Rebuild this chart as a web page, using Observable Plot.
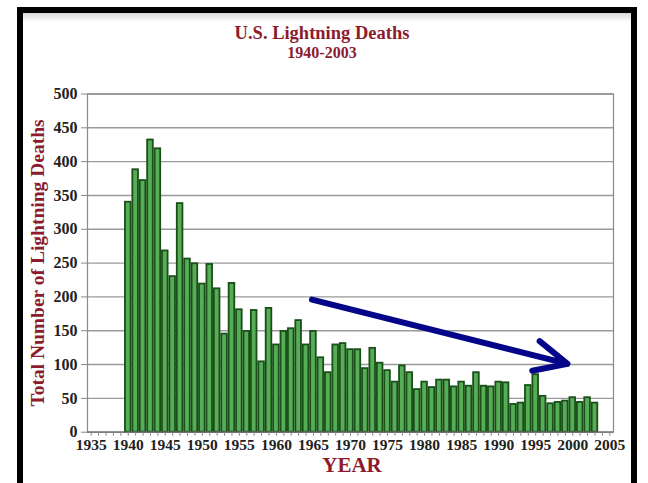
<!DOCTYPE html>
<html><head><meta charset="utf-8">
<script src="https://cdn.jsdelivr.net/npm/d3@7"></script>
<script src="https://cdn.jsdelivr.net/npm/@observablehq/plot@0.6"></script>
<style>
html,body{margin:0;padding:0;background:#fff;}
#wrap{position:relative;width:648px;height:483px;overflow:hidden;font-family:"Liberation Serif","Times New Roman",serif;background:#fff;}
#chart{position:absolute;left:0;top:0;}
#frame{position:absolute;left:17px;top:7px;width:608px;height:500px;border:6px solid #000;border-bottom:none;pointer-events:none;}
#shade{position:absolute;left:23px;top:13px;width:608px;height:9px;background:linear-gradient(#d8d8d8,#fff);}
.t{position:absolute;color:#8c1c2c;font-weight:bold;white-space:nowrap;line-height:1;}
#title{left:0;width:644px;text-align:center;top:24px;font-size:18.5px;}
#sub{left:0;width:644px;text-align:center;top:45px;font-size:16px;}
#ylab{left:38px;top:263px;font-size:19.5px;transform:translate(-50%,-50%) rotate(-90deg);}
#xlab{left:352px;top:465px;font-size:21px;transform:translate(-50%,-50%);}
</style></head>
<body>
<div id="wrap">
  <div id="shade"></div>
  <div id="chart"></div>
  <div id="frame"></div>
  <div class="t" id="title">U.S. Lightning Deaths</div>
  <div class="t" id="sub">1940-2003</div>
  <div class="t" id="ylab">Total Number of Lightning Deaths</div>
  <div class="t" id="xlab">YEAR</div>
</div>
<script>
const years = [1940,1941,1942,1943,1944,1945,1946,1947,1948,1949,
  1950,1951,1952,1953,1954,1955,1956,1957,1958,1959,
  1960,1961,1962,1963,1964,1965,1966,1967,1968,1969,
  1970,1971,1972,1973,1974,1975,1976,1977,1978,1979,
  1980,1981,1982,1983,1984,1985,1986,1987,1988,1989,
  1990,1991,1992,1993,1994,1995,1996,1997,1998,1999,
  2000,2001,2002,2003];
const deaths = [340,388,372,432,419,268,230,338,256,249,
  219,248,212,145,220,181,149,180,104,183,
  129,149,153,165,129,149,110,88,129,131,
  122,122,94,124,102,91,74,98,88,63,
  74,66,77,77,67,74,68,88,68,67,
  74,73,41,43,69,85,53,42,44,46,
  51,44,51,43];
const yTicks = [0,50,100,150,200,250,300,350,400,450,500];
const xTicks = [1935,1940,1945,1950,1955,1960,1965,1970,1975,1980,1985,1990,1995,2000,2005];
const minorYears = [1935,1936,1937,1938,1939,1940,1941,1942,1943,1944,1945,1946,1947,1948,1949,1950,1951,1952,1953,1954,1955,1956,1957,1958,1959,1960,1961,1962,1963,1964,1965,1966,1967,1968,1969,1970,1971,1972,1973,1974,1975,1976,1977,1978,1979,1980,1981,1982,1983,1984,1985,1986,1987,1988,1989,1990,1991,1992,1993,1994,1995,1996,1997,1998,1999,2000,2001,2002,2003,2004,2005];
const trendArrow = [{x1: 1964.8, y1: 196, x2: 1999.3, y2: 101}];

const data = years.map((y, i) => ({year: y, deaths: deaths[i]}));

const chart = Plot.plot({
  width: 648,
  height: 483,
  marginLeft: 87,
  marginRight: 35,
  marginTop: 93.5,
  marginBottom: 51.3,
  style: {fontFamily: "'Liberation Serif', 'Times New Roman', serif", fontSize: "15px", fontWeight: "bold", color: "#222", background: "transparent"},
  x: {domain: [1934.5, 2005.5]},
  y: {domain: [0, 500]},
  marks: [
    Plot.ruleY(yTicks, {stroke: "#9a9a9a", strokeWidth: 1.4}),
    Plot.frame({stroke: "#8a8a8a", strokeWidth: 1.2}),
    Plot.rectY(data, {x1: d => d.year - 0.38, x2: d => d.year + 0.38, y: "deaths", fill: "#55ad55", stroke: "#1a4f1a", strokeWidth: 1.8}),
    Plot.ruleY([0], {stroke: "#777", strokeWidth: 1.2}),
    Plot.axisY(yTicks, {tickSize: 6, tickPadding: 4, label: null, stroke: "#888", fontSize: 16}),
    Plot.axisX(minorYears, {tickSize: 4, tickFormat: () => "", label: null, stroke: "#888"}),
    Plot.axisX(xTicks, {tickSize: 0, tickPadding: 7, tickFormat: d => String(d), label: null, fontSize: 15.5}),
    Plot.arrow(trendArrow, {x1: "x1", y1: "y1", x2: "x2", y2: "y2", stroke: "#05058a", strokeWidth: 6, headLength: 9, headAngle: 50})
  ]
});
document.getElementById("chart").appendChild(chart);
</script>
</body></html>
